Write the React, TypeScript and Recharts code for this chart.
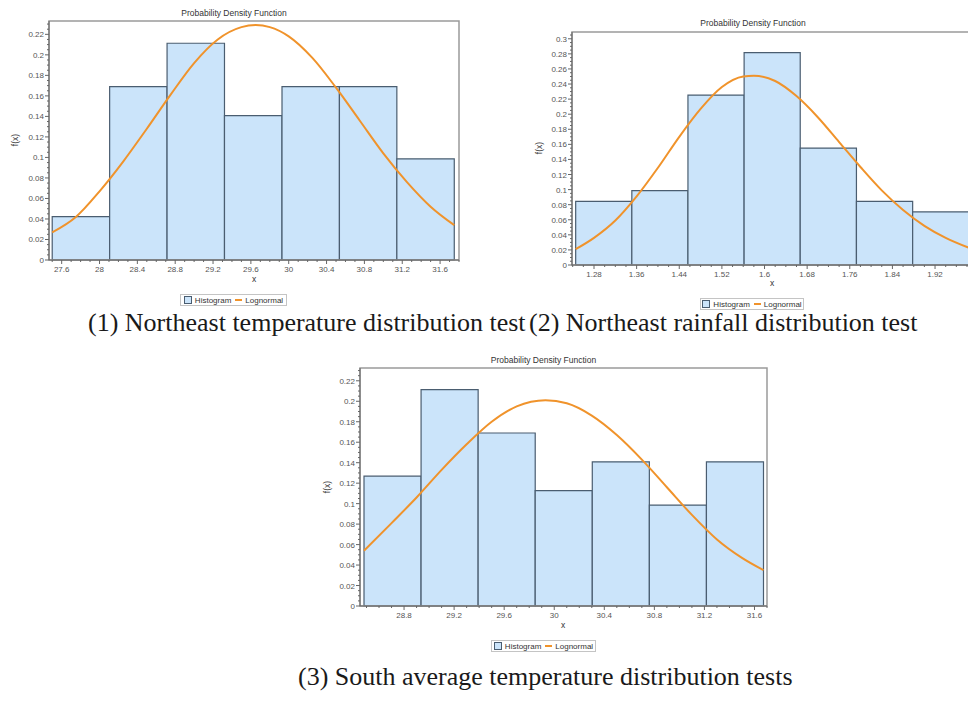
import React from "react";
import {
  ComposedChart,
  Line,
  XAxis,
  YAxis,
  CartesianGrid,
  ReferenceArea,
} from "recharts";

// ---- (1) Northeast temperature ----
const tempNEEdges = [27.5, 28.107, 28.714, 29.321, 29.929, 30.536, 31.143, 31.75];
const tempNEHeights = [0.0423, 0.169, 0.2113, 0.1408, 0.169, 0.169, 0.0986];
const tempNECurveX = [27.5, 27.75, 28.0, 28.25, 28.5, 28.75, 29.0, 29.25, 29.5, 29.65, 29.8, 30.0, 30.25, 30.5, 30.75, 31.0, 31.25, 31.5, 31.75];
const tempNECurveY = [0.027, 0.042, 0.067, 0.096, 0.128, 0.161, 0.192, 0.215, 0.227, 0.229, 0.227, 0.218, 0.197, 0.168, 0.136, 0.104, 0.076, 0.052, 0.034];
const tempNEXTicks = [27.6, 28, 28.4, 28.8, 29.2, 29.6, 30, 30.4, 30.8, 31.2, 31.6];
const tempNEYTicks = [0, 0.02, 0.04, 0.06, 0.08, 0.1, 0.12, 0.14, 0.16, 0.18, 0.2, 0.22];

// ---- (2) Northeast rainfall ----
const rainNEEdges = [1.2456, 1.351, 1.4563, 1.5617, 1.667, 1.7725, 1.878, 1.983];
const rainNEHeights = [0.0845, 0.0986, 0.2254, 0.2817, 0.155, 0.0845, 0.0704];
const rainNECurveX = [1.2456, 1.28, 1.32, 1.36, 1.4, 1.44, 1.48, 1.52, 1.56, 1.58, 1.62, 1.66, 1.7, 1.74, 1.78, 1.82, 1.86, 1.9, 1.94, 1.983];
const rainNECurveY = [0.021, 0.036, 0.059, 0.091, 0.129, 0.17, 0.207, 0.236, 0.25, 0.251, 0.244, 0.224, 0.196, 0.163, 0.13, 0.099, 0.073, 0.052, 0.036, 0.023];
const rainNEXTicks = [1.28, 1.36, 1.44, 1.52, 1.6, 1.68, 1.76, 1.84, 1.92];
const rainNEYTicks = [0, 0.02, 0.04, 0.06, 0.08, 0.1, 0.12, 0.14, 0.16, 0.18, 0.2, 0.22, 0.24, 0.26, 0.28, 0.3];

// ---- (3) South average temperature ----
const tempSEdges = [28.48, 28.936, 29.392, 29.848, 30.304, 30.76, 31.216, 31.672];
const tempSHeights = [0.1268, 0.2113, 0.169, 0.1127, 0.1408, 0.0986, 0.1408];
const tempSCurveX = [28.48, 28.7, 28.9, 29.1, 29.3, 29.5, 29.7, 29.93, 30.1, 30.3, 30.5, 30.7, 30.9, 31.1, 31.3, 31.5, 31.672];
const tempSCurveY = [0.054, 0.081, 0.106, 0.133, 0.158, 0.18, 0.195, 0.201, 0.198, 0.186, 0.167, 0.143, 0.116, 0.089, 0.065, 0.047, 0.035];
const tempSXTicks = [28.8, 29.2, 29.6, 30, 30.4, 30.8, 31.2, 31.6];
const tempSYTicks = [0, 0.02, 0.04, 0.06, 0.08, 0.1, 0.12, 0.14, 0.16, 0.18, 0.2, 0.22];

const SANS = "'Liberation Sans', Arial, sans-serif";
const SERIF = "'Liberation Serif', 'Times New Roman', serif";
const BAR_FILL = "#cbe4fa";
const BAR_STROKE = "#4a5d70";
const CURVE = "#f0932b";

// minor tick positions between the labelled ones
const minorTicks = (lo: number, hi: number, step: number) => {
  const out: number[] = [];
  for (let k = Math.ceil(lo / step - 1e-9); k * step <= hi + 1e-9; k++) {
    out.push(+(k * step).toFixed(5));
  }
  return out;
};

const findMajor = (v: number, majors: number[]) =>
  majors.find((m) => Math.abs(m - v) < 1e-6);

const YTick = (props: any) => {
  const { x, y, payload, majors } = props;
  const m = findMajor(payload.value, majors);
  return (
    <g>
      <line x1={x - (m !== undefined ? 4 : 2)} x2={x} y1={y} y2={y} stroke="#666" strokeWidth={1} />
      {m !== undefined && (
        <text x={x - 5} y={y} dy={3} textAnchor="end" fontSize={8} fontFamily={SANS} fill="#555">
          {String(m)}
        </text>
      )}
    </g>
  );
};

const XTick = (props: any) => {
  const { x, y, payload, majors } = props;
  const m = findMajor(payload.value, majors);
  return (
    <g>
      <line x1={x} x2={x} y1={y} y2={y + (m !== undefined ? 4 : 2)} stroke="#666" strokeWidth={1} />
      {m !== undefined && (
        <text x={x} y={y + 12} textAnchor="middle" fontSize={8} fontFamily={SANS} fill="#555">
          {String(m)}
        </text>
      )}
    </g>
  );
};

interface PdfChartProps {
  width: number;
  height: number;
  margin: { top: number; right: number; bottom: number; left: number };
  xDomain: [number, number];
  yDomain: [number, number];
  xTicks: number[];
  yTicks: number[];
  xMinorStep: number;
  yMinorStep: number;
  edges: number[];
  heights: number[];
  curveX: number[];
  curveY: number[];
}

const PdfChart: React.FC<PdfChartProps> = (p) => {
  const curve = p.curveX.map((x, i) => ({ x, y: p.curveY[i] }));
  const xAll = minorTicks(p.xDomain[0], p.xDomain[1], p.xMinorStep);
  const yAll = minorTicks(p.yDomain[0], p.yDomain[1], p.yMinorStep);

  return (
    <ComposedChart width={p.width} height={p.height} margin={p.margin}>
      <CartesianGrid
        stroke="#ebebeb"
        strokeDasharray="2 2"
        horizontalCoordinatesGenerator={({ yAxis }: any) =>
          yAxis && typeof yAxis.scale === "function" ? p.yTicks.map((t) => yAxis.scale(t)) : []
        }
        verticalCoordinatesGenerator={({ xAxis }: any) =>
          xAxis && typeof xAxis.scale === "function" ? p.xTicks.map((t) => xAxis.scale(t)) : []
        }
      />
      <XAxis
        dataKey="x"
        type="number"
        domain={p.xDomain}
        allowDataOverflow
        ticks={xAll}
        interval={0}
        height={20}
        tickSize={0}
        tickMargin={0}
        tickLine={false}
        axisLine={{ stroke: "#666" }}
        tick={(tp: any) => <XTick {...tp} majors={p.xTicks} />}
      />
      <YAxis
        type="number"
        domain={p.yDomain}
        allowDataOverflow
        ticks={yAll}
        interval={0}
        width={34}
        tickSize={0}
        tickMargin={0}
        tickLine={false}
        axisLine={{ stroke: "#666" }}
        tick={(tp: any) => <YTick {...tp} majors={p.yTicks} />}
      />
      {p.heights.map((h, i) => (
        <ReferenceArea
          key={i}
          x1={p.edges[i]}
          x2={p.edges[i + 1]}
          y1={0}
          y2={h}
          fill={BAR_FILL}
          fillOpacity={1}
          stroke={BAR_STROKE}
          strokeWidth={1.2}
          ifOverflow="visible"
        />
      ))}
      <ReferenceArea
        x1={p.xDomain[0]}
        x2={p.xDomain[1]}
        y1={p.yDomain[0]}
        y2={p.yDomain[1]}
        fill="none"
        fillOpacity={0}
        stroke="#9a9a9a"
        strokeWidth={1.5}
        ifOverflow="visible"
      />
      <Line
        data={curve}
        dataKey="y"
        type="monotone"
        stroke={CURVE}
        strokeWidth={2}
        dot={false}
        activeDot={false}
        isAnimationActive={false}
      />
    </ComposedChart>
  );
};

const Txt: React.FC<{ cx: number; cy: number; size?: number; rotate?: number; children: React.ReactNode }> = ({
  cx,
  cy,
  size = 8.5,
  rotate = 0,
  children,
}) => (
  <div
    style={{
      position: "absolute",
      left: cx,
      top: cy,
      transform: `translate(-50%, -50%) rotate(${rotate}deg)`,
      fontFamily: SANS,
      fontSize: size,
      color: "#333",
      whiteSpace: "nowrap",
      lineHeight: 1,
    }}
  >
    {children}
  </div>
);

const LegendBox: React.FC<{ left: number; top: number; width: number }> = ({ left, top, width }) => (
  <div
    style={{
      position: "absolute",
      left,
      top,
      width,
      height: 12,
      border: "1px solid #c4c4c4",
      boxSizing: "border-box",
      display: "flex",
      alignItems: "center",
      justifyContent: "center",
      fontFamily: SANS,
      fontSize: 8,
      color: "#333",
      background: "#fff",
    }}
  >
    <span
      style={{
        display: "inline-block",
        width: 6,
        height: 6,
        border: `1px solid ${BAR_STROKE}`,
        background: BAR_FILL,
        marginRight: 3,
      }}
    />
    <span>Histogram</span>
    <span style={{ display: "inline-block", width: 7, height: 2, background: CURVE, margin: "0 3px 0 4px" }} />
    <span>Lognormal</span>
  </div>
);

const Caption: React.FC<{ left: number; cy: number; children: React.ReactNode }> = ({ left, cy, children }) => (
  <div
    style={{
      position: "absolute",
      left,
      top: cy - 13,
      fontFamily: SERIF,
      fontSize: 26,
      lineHeight: "26px",
      color: "#1a1a1a",
      whiteSpace: "nowrap",
    }}
  >
    {children}
  </div>
);

export default function App() {
  return (
    <div
      style={{
        position: "absolute",
        left: 0,
        top: 0,
        width: 968,
        height: 704,
        overflow: "hidden",
        background: "#fff",
      }}
    >
      {/* (1) */}
      <div style={{ position: "absolute", left: 0, top: 0 }}>
        <PdfChart
          width={470}
          height={280}
          margin={{ top: 21, right: 11, bottom: 0, left: 15 }}
          xDomain={[27.466, 31.8]}
          yDomain={[0, 0.233]}
          xTicks={tempNEXTicks}
          yTicks={tempNEYTicks}
          xMinorStep={0.1}
          yMinorStep={0.005}
          edges={tempNEEdges}
          heights={tempNEHeights}
          curveX={tempNECurveX}
          curveY={tempNECurveY}
        />
      </div>
      <Txt cx={234} cy={13}>Probability Density Function</Txt>
      <Txt cx={15} cy={140} rotate={-90}>f(x)</Txt>
      <Txt cx={254} cy={279}>x</Txt>
      <LegendBox left={180} top={294} width={107} />

      {/* (2) */}
      <div style={{ position: "absolute", left: 500, top: 0 }}>
        <PdfChart
          width={477}
          height={285}
          margin={{ top: 32, right: 2, bottom: 0, left: 38 }}
          xDomain={[1.2387, 1.995]}
          yDomain={[0, 0.309]}
          xTicks={rainNEXTicks}
          yTicks={rainNEYTicks}
          xMinorStep={0.02}
          yMinorStep={0.005}
          edges={rainNEEdges}
          heights={rainNEHeights}
          curveX={rainNECurveX}
          curveY={rainNECurveY}
        />
      </div>
      <Txt cx={753} cy={23}>Probability Density Function</Txt>
      <Txt cx={539} cy={148} rotate={-90}>f(x)</Txt>
      <Txt cx={772} cy={283}>x</Txt>
      <LegendBox left={700} top={298} width={104} />

      {/* (3) */}
      <div style={{ position: "absolute", left: 320, top: 350 }}>
        <PdfChart
          width={457}
          height={276}
          margin={{ top: 18, right: 10, bottom: 0, left: 6 }}
          xDomain={[28.448, 31.7]}
          yDomain={[0, 0.2325]}
          xTicks={tempSXTicks}
          yTicks={tempSYTicks}
          xMinorStep={0.1}
          yMinorStep={0.005}
          edges={tempSEdges}
          heights={tempSHeights}
          curveX={tempSCurveX}
          curveY={tempSCurveY}
        />
      </div>
      <Txt cx={543.5} cy={360}>Probability Density Function</Txt>
      <Txt cx={327} cy={487} rotate={-90}>f(x)</Txt>
      <Txt cx={563} cy={625}>x</Txt>
      <LegendBox left={491} top={640} width={105} />

      <Caption left={88} cy={323}>(1) Northeast temperature distribution test</Caption>
      <Caption left={529} cy={323}>(2) Northeast rainfall distribution test</Caption>
      <Caption left={298} cy={677}>(3) South average temperature distribution tests</Caption>
    </div>
  );
}
